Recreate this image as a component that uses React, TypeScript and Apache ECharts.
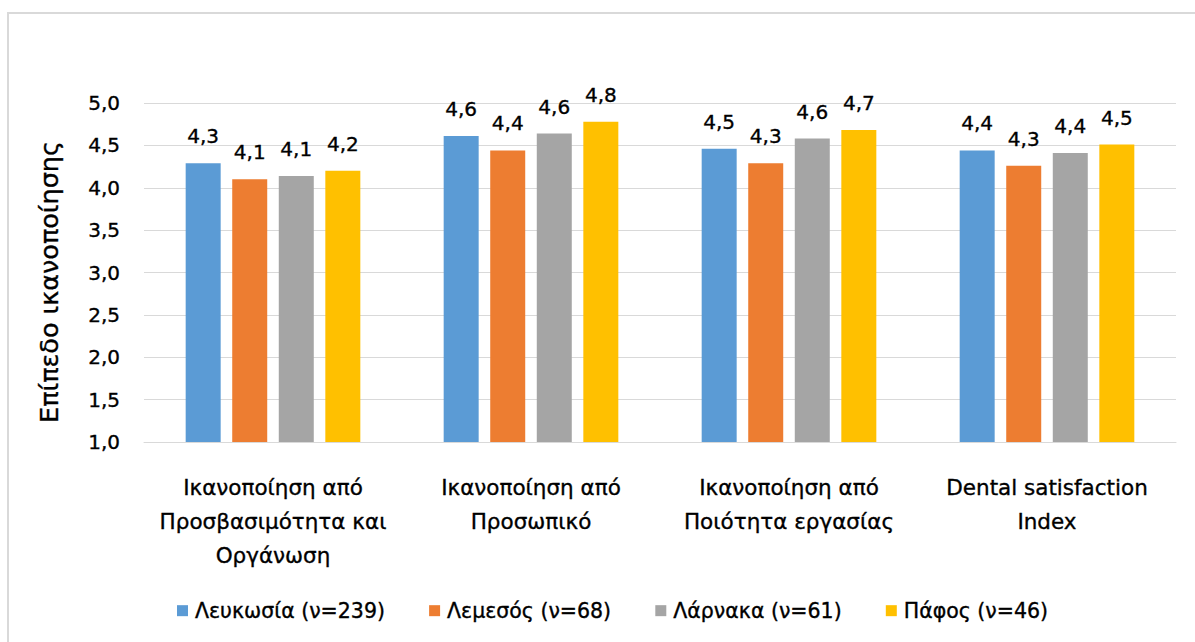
import React, { useEffect, useRef } from "react";
import * as echarts from "echarts";

// Satisfaction dimensions (x-axis categories)
const categories: string[] = [
  "Ικανοποίηση από\nΠροσβασιμότητα και\nΟργάνωση",
  "Ικανοποίηση από\nΠροσωπικό",
  "Ικανοποίηση από\nΠοιότητα εργασίας",
  "Dental satisfaction\nIndex",
];

// Mean satisfaction level per city
const lefkosia: number[] = [4.29, 4.61, 4.46, 4.44];
const lemesos: number[] = [4.1, 4.44, 4.29, 4.26];
const larnaka: number[] = [4.14, 4.64, 4.58, 4.41];
const pafos: number[] = [4.2, 4.78, 4.68, 4.51];

const seriesNames: string[] = [
  "Λευκωσία (ν=239)",
  "Λεμεσός (ν=68)",
  "Λάρνακα (ν=61)",
  "Πάφος (ν=46)",
];
const seriesColors: string[] = ["#5B9BD5", "#ED7D31", "#A5A5A5", "#FFC000"];

const yAxisTitle = "Επίπεδο ικανοποίησης";

const FONT = "DejaVu Sans";
// light outline in the text colour gives the labels a slightly heavier stroke
const heavy = { textBorderColor: "#000000", textBorderWidth: 0.35 };

const fmt = (v: number) => v.toFixed(1).replace(".", ",");

export default function App() {
  const ref = useRef<HTMLDivElement>(null);

  useEffect(() => {
    if (!ref.current) return;
    const chart = echarts.init(ref.current, undefined, { renderer: "svg" });
    const seriesData = [lefkosia, lemesos, larnaka, pafos];

    chart.setOption({
      animation: false,
      backgroundColor: "#ffffff",
      textStyle: { fontFamily: FONT },
      grid: { left: 144, right: 19, top: 103, bottom: 200, containLabel: false },
      legend: {
        left: 172,
        top: 595,
        itemWidth: 11,
        itemHeight: 11,
        itemGap: 44,
        icon: "rect",
        textStyle: {
          fontFamily: FONT,
          fontSize: 20.5,
          color: "#000000",
          padding: [0, 0, 0, 2],
          ...heavy,
        },
        data: seriesNames,
      },
      xAxis: {
        type: "category",
        data: categories,
        axisLine: { show: true, lineStyle: { color: "#d9d9d9", width: 1 } },
        axisTick: { show: false },
        axisLabel: {
          interval: 0,
          margin: 28,
          fontFamily: FONT,
          fontSize: 21.5,
          lineHeight: 34,
          color: "#000000",
          ...heavy,
        },
      },
      yAxis: {
        type: "value",
        min: 1,
        max: 5,
        interval: 0.5,
        axisLine: { show: false },
        axisTick: { show: false },
        splitLine: { lineStyle: { color: "#d9d9d9", width: 1 } },
        axisLabel: {
          margin: 24,
          fontFamily: FONT,
          fontSize: 20,
          color: "#000000",
          ...heavy,
          formatter: (v: number) => fmt(v),
        },
      },
      graphic: [
        {
          type: "rect",
          shape: { x: 8, y: 13, width: 1200, height: 700 },
          style: { fill: "none", stroke: "#d9d9d9", lineWidth: 2 },
          silent: true,
        },
        {
          type: "text",
          x: 49,
          y: 282,
          rotation: Math.PI / 2,
          style: {
            text: yAxisTitle,
            fontFamily: FONT,
            fontSize: 25.5,
            fill: "#000000",
            stroke: "#000000",
            lineWidth: 0.35,
            align: "center",
            verticalAlign: "middle",
          },
        },
      ],
      series: seriesNames.map((name, i) => ({
        name,
        type: "bar",
        data: seriesData[i],
        barWidth: 35,
        barGap: "33%",
        itemStyle: { color: seriesColors[i] },
        label: {
          show: true,
          position: "top",
          distance: 17,
          fontFamily: FONT,
          fontSize: 20,
          color: "#000000",
          ...heavy,
          formatter: (p: any) => fmt(p.value),
        },
      })),
    });

    return () => chart.dispose();
  }, []);

  return (
    <div
      ref={ref}
      style={{ position: "fixed", left: 0, top: 0, width: 1195, height: 642 }}
    />
  );
}
